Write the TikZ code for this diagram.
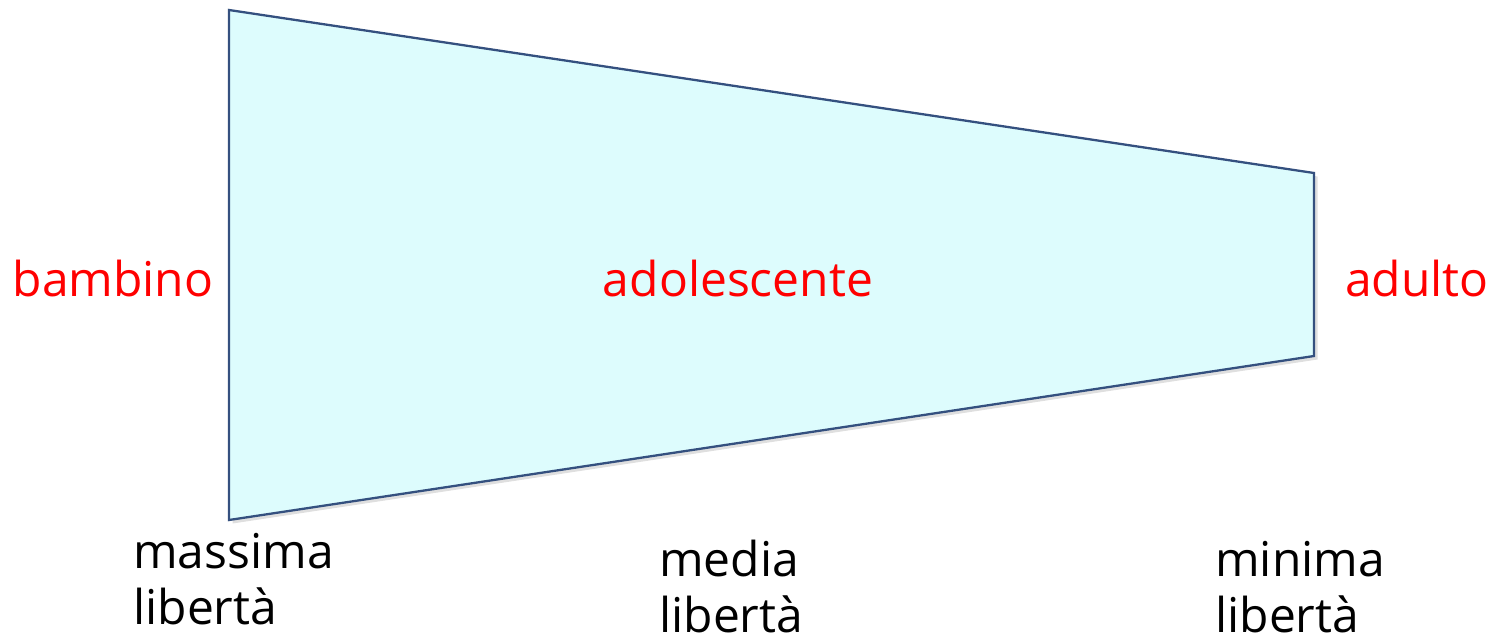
\documentclass[tikz,border=0pt]{standalone}
\usepackage{fontspec}
\setmainfont{Open Sans}
\usetikzlibrary{shadows}

\definecolor{funnelfill}{HTML}{DDFCFD}
\definecolor{funneldraw}{HTML}{34507F}

\begin{document}
\begin{tikzpicture}[x=0.2mm, y=0.2mm,
    stage/.style={font=\fontsize{27.3}{33}\selectfont, text=red, inner sep=0pt},
    freedom/.style={font=\fontsize{27.3}{31.8}\selectfont, align=left,
                    inner sep=0pt, anchor=base west}]
    \useasboundingbox (0,0) rectangle (1496,638);
    % funnel
    \draw[fill=funnelfill, draw=funneldraw, line width=1.3pt,
          drop shadow={shadow xshift=2pt, shadow yshift=-2pt, opacity=0.25}]
      (229,628) -- (1314,465) -- (1314,282) -- (229,118) -- cycle;
    % stages
    \node[stage] (bambino) at (113,359) {bambino};
    \node[stage] (adolescente) at (738,359) {adolescente};
    \node[stage] (adulto) at (1417,359) {adulto};
    % freedom (base = last line)
    \node[freedom] (massima) at (133,14) {massima\\libertà};
    \node[freedom] (media) at (659,6) {media\\libertà};
    \node[freedom] (minima) at (1215,6) {minima\\libertà};
\end{tikzpicture}
\end{document}
